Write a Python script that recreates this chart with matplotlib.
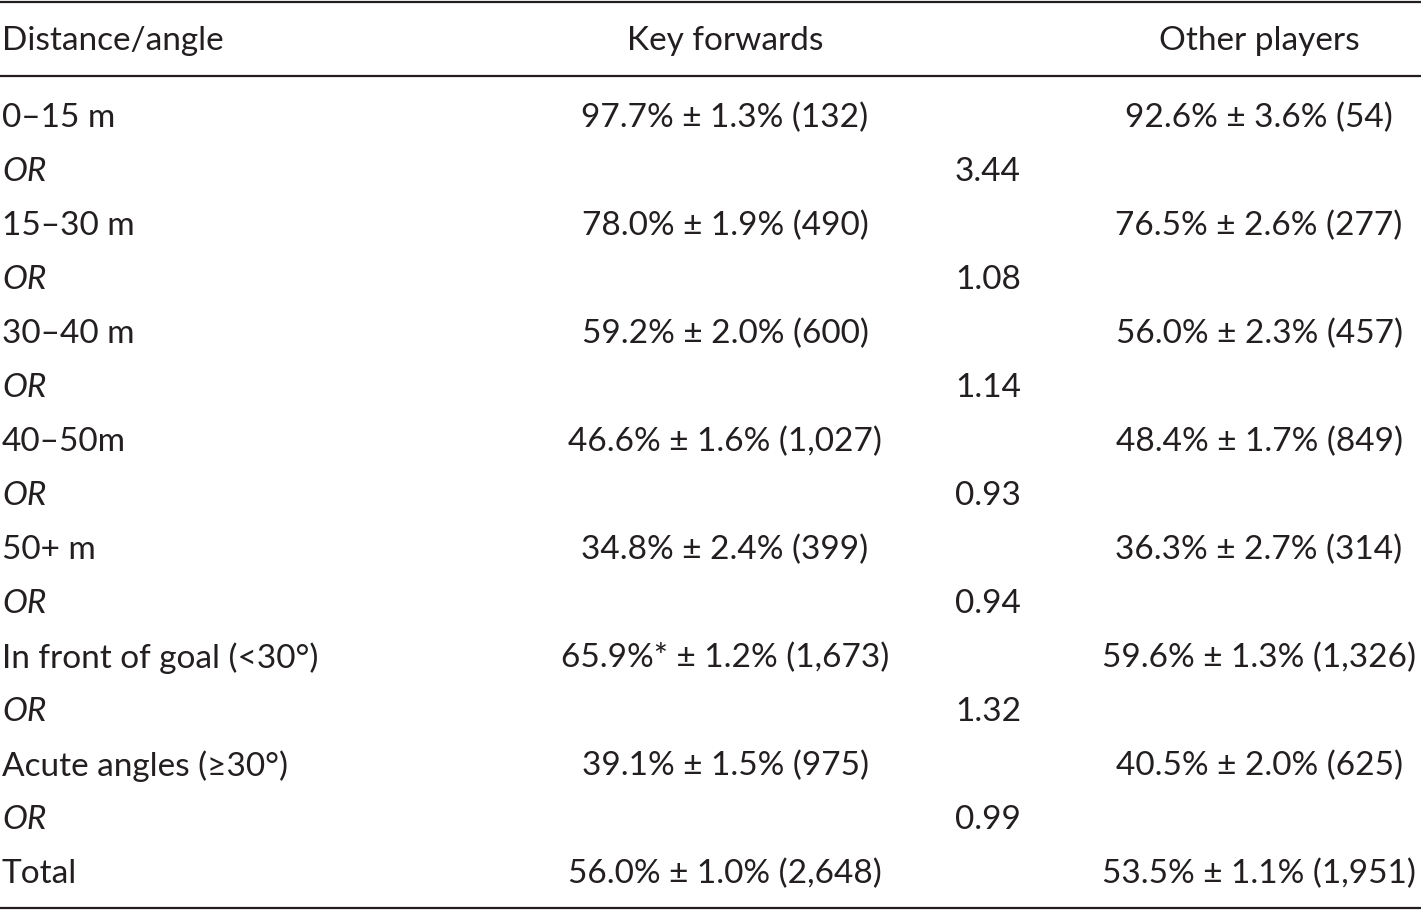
import matplotlib.pyplot as plt

# table content
header = ["Distance/angle", "Key forwards", "Other players"]
row_labels = ["0\u201315 m", "15\u201330 m", "30\u201340 m", "40\u201350m", "50+ m",
              "In front of goal (<30\u00b0)", "Acute angles (\u226530\u00b0)", "Total"]
key_forwards = ["97.7% \u00b1 1.3% (132)", "78.0% \u00b1 1.9% (490)",
                "59.2% \u00b1 2.0% (600)", "46.6% \u00b1 1.6% (1,027)",
                "34.8% \u00b1 2.4% (399)", "65.9%* \u00b1 1.2% (1,673)",
                "39.1% \u00b1 1.5% (975)", "56.0% \u00b1 1.0% (2,648)"]
other_players = ["92.6% \u00b1 3.6% (54)", "76.5% \u00b1 2.6% (277)",
                 "56.0% \u00b1 2.3% (457)", "48.4% \u00b1 1.7% (849)",
                 "36.3% \u00b1 2.7% (314)", "59.6% \u00b1 1.3% (1,326)",
                 "40.5% \u00b1 2.0% (625)", "53.5% \u00b1 1.1% (1,951)"]
odds_ratios = ["3.44", "1.08", "1.14", "0.93", "0.94", "1.32", "0.99"]

W, H = 1421, 910
fig = plt.figure(figsize=(W / 100, H / 100), dpi=100)
ax = fig.add_axes([0, 0, 1, 1])
ax.set_xlim(0, W)
ax.set_ylim(H, 0)
ax.axis('off')

fs = 24
font = dict(family='Lato', fontsize=fs, color='#231f20', va='center')

x_label, x_kf, x_or, x_op = 2, 725, 988, 1259
y_head, y0, dy = 41, 118, 54

ax.text(x_label, y_head, header[0], ha='left', **font)
ax.text(x_kf, y_head, header[1], ha='center', **font)
ax.text(x_op, y_head, header[2], ha='center', **font)

y = y0
for i in range(len(row_labels)):
    ax.text(x_label, y, row_labels[i], ha='left', **font)
    ax.text(x_kf, y, key_forwards[i], ha='center', **font)
    ax.text(x_op, y, other_players[i], ha='center', **font)
    y += dy
    if i < len(odds_ratios):
        ax.text(x_label, y, "OR", ha='left', style='italic', **font)
        ax.text(x_or, y, odds_ratios[i], ha='center', **font)
        y += dy

# rules
for yr in [1.5, 76, 908]:
    ax.plot([0, W], [yr, yr], color='#231f20', lw=1.6, solid_capstyle='butt')

fig.savefig('out.png', dpi=100)
